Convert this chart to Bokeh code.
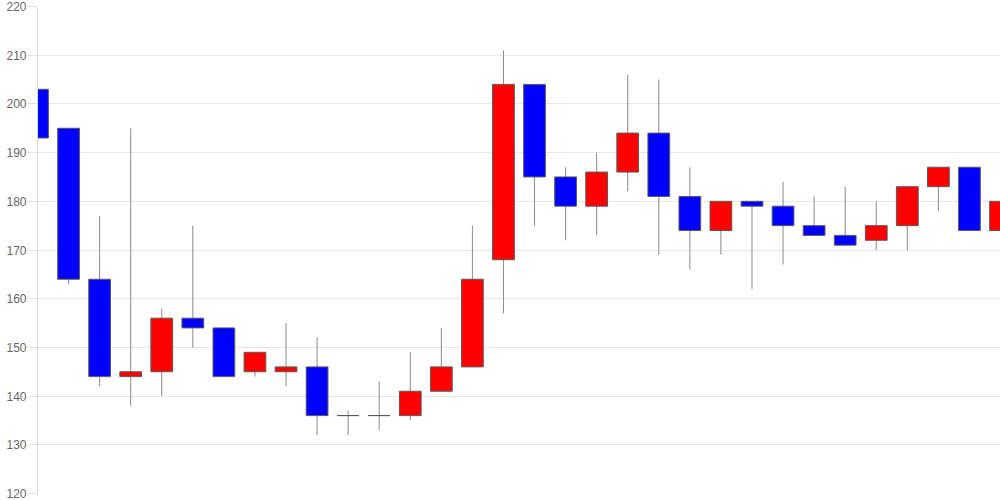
from bokeh.plotting import figure
from bokeh.models import ColumnDataSource, Range1d, SingleIntervalTicker
from bokeh.embed import file_html
from bokeh.resources import INLINE

# Candle data (index 0..31)
opens  = [203, 195, 164, 144, 145, 156, 154, 145, 145, 146, 136, 136, 136, 141, 146, 168,
          204, 185, 179, 186, 194, 181, 174, 180, 179, 175, 173, 172, 175, 183, 187, 174]
closes = [193, 164, 144, 145, 156, 154, 144, 149, 146, 136, 136, 136, 141, 146, 164, 204,
          185, 179, 186, 194, 181, 174, 180, 179, 175, 173, 171, 175, 183, 187, 174, 180]
highs  = [211, 195, 177, 195, 158, 175, 154, 149, 155, 152, 137, 143, 149, 154, 175, 211,
          204, 187, 190, 206, 205, 187, 180, 180, 184, 181, 183, 180, 183, 187, 187, 183]
lows   = [190, 163, 142, 138, 140, 150, 144, 144, 142, 132, 132, 133, 135, 141, 146, 157,
          175, 172, 173, 182, 169, 166, 169, 162, 167, 173, 171, 170, 170, 178, 174, 174]
y_ticks = [120, 130, 140, 150, 160, 170, 180, 190, 200, 210, 220]

UP = "#ff0000"
DOWN = "#0000ff"

idx = list(range(len(opens)))
colors = [UP if c > o else DOWN for o, c in zip(opens, closes)]
tops = [max(o, c) for o, c in zip(opens, closes)]
bottoms = [min(o, c) for o, c in zip(opens, closes)]

src = ColumnDataSource(dict(x=idx, top=tops, bottom=bottoms, high=highs, low=lows, color=colors))

p = figure(width=1000, height=500, output_backend="svg", toolbar_location=None,
           x_range=Range1d(0, len(opens) - 1), y_range=Range1d(y_ticks[0], y_ticks[-1]),
           min_border_left=37, min_border_right=0, min_border_top=6, min_border_bottom=7)
p.outline_line_color = None
p.background_fill_color = "white"
p.border_fill_color = "white"

p.segment(x0="x", y0="high", x1="x", y1="low", source=src, line_color="#8a8a8a", line_width=1)
p.vbar(x="x", width=0.7, top="top", bottom="bottom", source=src,
       fill_color="color", line_color="#5a5a5a", line_width=1)

p.xaxis.visible = False
p.xgrid.visible = False

ya = p.yaxis[0]
ya.ticker = SingleIntervalTicker(interval=10)
ya.axis_line_color = "#d9d9d9"
ya.major_tick_line_color = "#e0e0e0"
ya.major_tick_out = 10
ya.major_tick_in = 0
ya.minor_tick_line_color = None
ya.major_label_standoff = 1
ya.major_label_text_font = "Liberation Sans"
ya.major_label_text_font_size = "12px"
ya.major_label_text_color = "#666666"

p.ygrid.ticker = SingleIntervalTicker(interval=10)
p.ygrid.grid_line_color = "#e6e6e6"
p.ygrid.grid_line_width = 1

open("out.html", "w").write(file_html(p, INLINE))
